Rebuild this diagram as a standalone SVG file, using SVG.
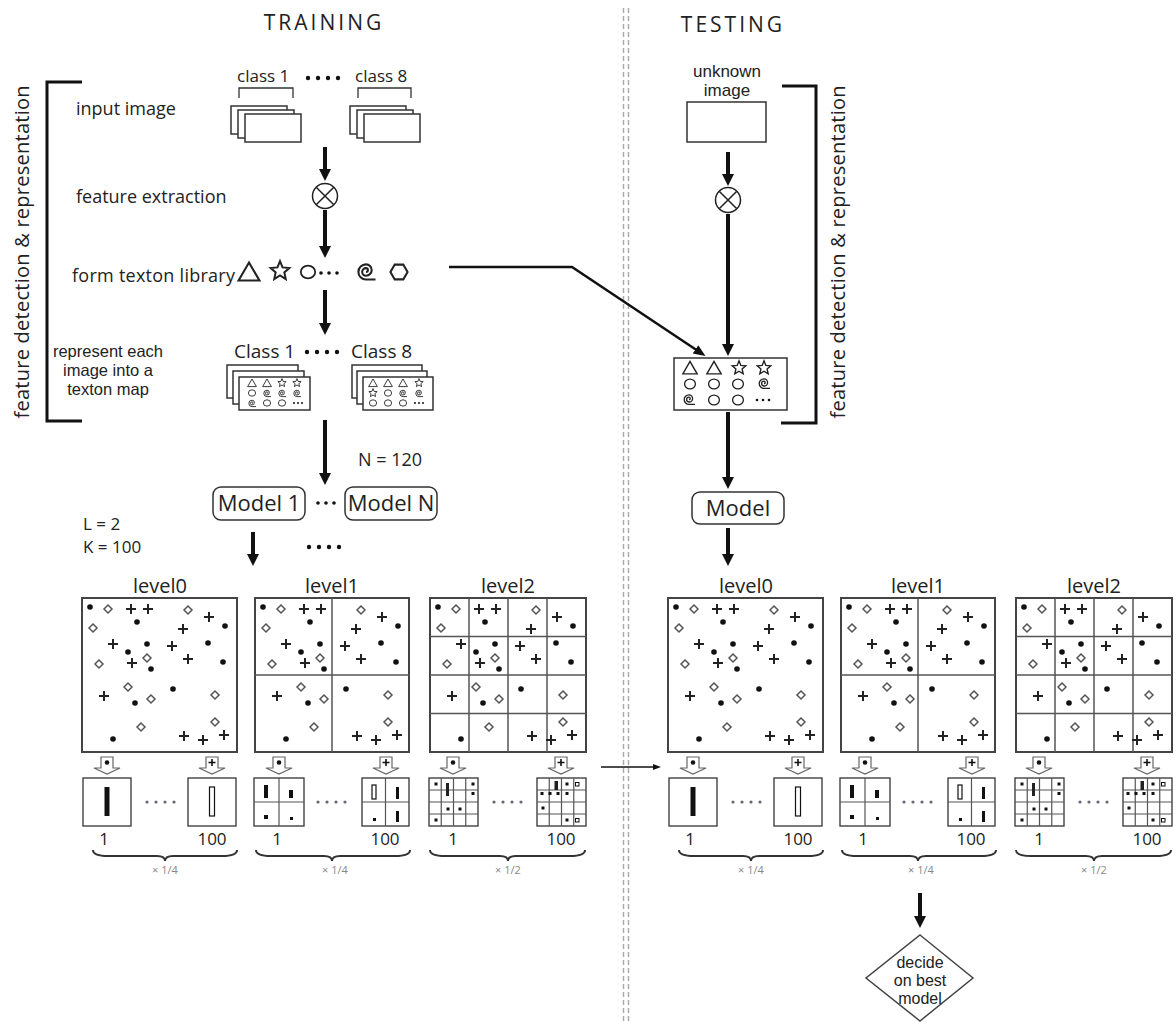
<svg xmlns="http://www.w3.org/2000/svg" width="1176" height="1022" viewBox="0 0 1176 1022">
<style>
text{font-family:"Open Sans","Liberation Sans",sans-serif;fill:#222}
.lbl{font-size:18px}
.title{font-size:21px;letter-spacing:3px;text-anchor:middle}
.arr{stroke:#111;stroke-width:4;fill:none;marker-end:url(#ah)}
.box{fill:#fff;stroke:#333;stroke-width:1.5}
.sq{fill:#fff;stroke:#444;stroke-width:2}
.grid{stroke:#555;stroke-width:1.5}
.ic{fill:none;stroke:#222;stroke-width:1.1}
.dot{fill:#111}
.dia{fill:#fff;stroke:#555;stroke-width:1.5}
.pl{stroke:#222;stroke-width:2}
.num{font-size:17px;text-anchor:middle}
.mul{font-size:11px;fill:#888;text-anchor:middle}
.brace{fill:none;stroke:#333;stroke-width:2}
.hb{fill:#fff;stroke:#333;stroke-width:1.3}
.hg{stroke:#555;stroke-width:1.2}
.gd{fill:#667}
.icn{fill:#fff;stroke:#666;stroke-width:1.2}
.lvt{font-size:20px;text-anchor:middle}
.brk{fill:none;stroke:#111;stroke-width:3}
.mid{text-anchor:middle}
.mdl{font-size:22px;text-anchor:middle}
.tight{font-family:"Liberation Sans","DejaVu Sans",sans-serif;text-anchor:middle}
</style>
<defs>
<marker id="ah" markerUnits="userSpaceOnUse" markerWidth="12" markerHeight="14" viewBox="0 0 12 14" refX="4" refY="7" orient="auto"><path d="M0,1 L12,7 L0,13 Z" fill="#111"/></marker>
<marker id="ahm" markerUnits="userSpaceOnUse" markerWidth="12" markerHeight="12" viewBox="0 0 12 12" refX="3" refY="6" orient="auto"><path d="M0,1 L12,6 L0,11 Z" fill="#111"/></marker>
<marker id="ahs" markerUnits="userSpaceOnUse" markerWidth="8" markerHeight="8" viewBox="0 0 8 8" refX="2" refY="4" orient="auto"><path d="M0,1 L8,4 L0,7 Z" fill="#111"/></marker>
<path id="tri" class="ic" d="M-5.5,4.5 L0,-5 L5.5,4.5 Z"/>
<path id="star" class="ic" d="M0,-5.5 L1.4,-2 L5.2,-1.7 L2.4,0.8 L3.2,4.5 L0,2.5 L-3.2,4.5 L-2.4,0.8 L-5.2,-1.7 L-1.4,-2 Z"/>
<ellipse id="circ" class="ic" rx="4.5" ry="4"/>
<path id="spir" class="ic" d="M0,0.5 A1,1 0 0 0 0,-1.5 A2,2 0 0 0 0,2.5 A3,3 0 0 0 0,-3.5 A4,4 0 0 0 0,4.5 L5,4.5"/>
<polygon id="hex" class="ic" points="4.5,0 2.25,3.9 -2.25,3.9 -4.5,0 -2.25,-3.9 2.25,-3.9"/>
<path id="dm" class="dia" d="M0,-4 L4,0 L0,4 L-4,0 Z"/>
<path id="pl" class="pl" d="M-5,0 H5 M0,-5 V5"/>
<g id="pts">
<circle class="dot" cx="8" cy="9" r="2.8"/><circle class="dot" cx="55" cy="24" r="2.8"/><circle class="dot" cx="143" cy="28" r="2.8"/><circle class="dot" cx="65" cy="46" r="2.8"/><circle class="dot" cx="126" cy="45" r="2.8"/><circle class="dot" cx="46" cy="54" r="2.8"/><circle class="dot" cx="141" cy="64" r="2.8"/><circle class="dot" cx="69" cy="71" r="2.8"/><circle class="dot" cx="91" cy="91" r="2.8"/><circle class="dot" cx="53" cy="105" r="2.8"/><circle class="dot" cx="31" cy="141" r="2.8"/>
<use href="#dm" x="26" y="11"/><use href="#dm" x="106" y="12"/><use href="#dm" x="11" y="30"/><use href="#dm" x="65" y="60"/><use href="#dm" x="17" y="66"/><use href="#dm" x="46" y="89"/><use href="#dm" x="133" y="97"/><use href="#dm" x="69" y="101"/><use href="#dm" x="59" y="129"/><use href="#dm" x="133" y="124"/>
<use href="#pl" x="49" y="11"/><use href="#pl" x="66" y="11"/><use href="#pl" x="127" y="19"/><use href="#pl" x="101" y="31"/><use href="#pl" x="31" y="46"/><use href="#pl" x="90" y="48"/><use href="#pl" x="106" y="61"/><use href="#pl" x="50" y="65"/><use href="#pl" x="22" y="98"/><use href="#pl" x="102" y="138"/><use href="#pl" x="121" y="142"/><use href="#pl" x="142" y="137"/>
</g>
<g id="icd"><path class="icn" d="M-6,0 H6 V11 H13 L0,17 L-13,11 H-6 Z"/><circle cx="0" cy="5.5" r="2.3" fill="#111"/></g>
<g id="icp"><path class="icn" d="M-6,0 H6 V11 H13 L0,17 L-13,11 H-6 Z"/><path d="M-3.5,5.5 H3.5 M0,2 V9" stroke="#111" stroke-width="1.6"/></g>
<g id="lvl">
<text class="lvt" x="160" y="593">level0</text>
<text class="lvt" x="332" y="593">level1</text>
<text class="lvt" x="508" y="593">level2</text>
<rect class="sq" x="82" y="598" width="155" height="154"/>
<rect class="sq" x="255" y="598" width="154" height="154"/>
<path class="grid" d="M332,598 V752 M255,675 H409"/>
<rect class="sq" x="430" y="598" width="156" height="154"/>
<path class="grid" d="M469,598 V752 M508,598 V752 M547,598 V752 M430,636.5 H586 M430,675 H586 M430,713.5 H586"/>
<use href="#pts" x="82" y="598"/>
<use href="#pts" x="255" y="598"/>
<use href="#pts" x="430" y="598"/>
<use href="#icd" x="107" y="757"/><use href="#icp" x="212" y="757"/>
<use href="#icd" x="279" y="757"/><use href="#icp" x="386" y="757"/>
<use href="#icd" x="453" y="757"/><use href="#icp" x="561" y="757"/>
<rect class="hb" x="83" y="778" width="48" height="48"/>
<rect x="104.5" y="787" width="5" height="29" fill="#111"/>
<rect class="hb" x="188" y="778" width="48" height="48"/>
<rect x="209.5" y="787" width="5" height="29" fill="#fff" stroke="#111" stroke-width="1.2"/>
<circle class="gd" cx="147" cy="802" r="1.6"/><circle class="gd" cx="156" cy="802" r="1.6"/><circle class="gd" cx="165" cy="802" r="1.6"/><circle class="gd" cx="174" cy="802" r="1.6"/>
<rect class="hb" x="254" y="778" width="50" height="48"/>
<path class="hg" d="M279,778 V826 M254,802 H304"/>
<rect x="264" y="785" width="4" height="13" fill="#111"/>
<rect x="289" y="790" width="4" height="8" fill="#111"/>
<rect x="264" y="815" width="4" height="4" fill="#111"/>
<rect x="290" y="817" width="3" height="3" fill="#111"/>
<circle class="gd" cx="318" cy="802" r="1.6"/><circle class="gd" cx="327" cy="802" r="1.6"/><circle class="gd" cx="336" cy="802" r="1.6"/><circle class="gd" cx="345" cy="802" r="1.6"/>
<rect class="hb" x="362" y="778" width="47" height="48"/>
<path class="hg" d="M385.5,778 V826 M362,802 H409"/>
<rect x="372" y="785" width="4" height="14" fill="#fff" stroke="#111" stroke-width="1.2"/>
<rect x="396" y="787" width="3" height="12" fill="#111"/>
<rect x="373" y="818" width="3" height="3" fill="#111"/>
<rect x="396" y="811" width="3" height="11" fill="#111"/>
<rect class="hb" x="429" y="778" width="49" height="48"/>
<path class="hg" d="M441.25,778 V826 M453.5,778 V826 M465.75,778 V826 M429,790 H478 M429,802 H478 M429,814 H478"/>
<rect x="434.5" y="782.5" width="3" height="3" fill="#111"/>
<rect x="446" y="783" width="3" height="13" fill="#222"/>
<rect x="471.5" y="782.5" width="3" height="3" fill="#111"/>
<rect x="471.5" y="792" width="3" height="3" fill="#111"/>
<rect x="446.5" y="807.5" width="3" height="3" fill="#111"/>
<rect x="458.5" y="807.5" width="3" height="3" fill="#111"/>
<rect x="434.5" y="818.5" width="3" height="3" fill="#111"/>
<circle class="gd" cx="494" cy="802" r="1.6"/><circle class="gd" cx="503" cy="802" r="1.6"/><circle class="gd" cx="512" cy="802" r="1.6"/><circle class="gd" cx="521" cy="802" r="1.6"/>
<rect class="hb" x="537" y="778" width="49" height="48"/>
<path class="hg" d="M549.25,778 V826 M561.5,778 V826 M573.75,778 V826 M537,790 H586 M537,802 H586 M537,814 H586"/>
<rect x="554.5" y="781" width="3.5" height="9" fill="#222"/>
<rect x="565.5" y="782.5" width="3" height="3" fill="#111"/>
<rect x="575.5" y="782.5" width="3.5" height="3.5" fill="#fff" stroke="#111" stroke-width="1"/>
<rect x="540.5" y="792" width="3" height="3" fill="#111"/>
<rect x="548.5" y="792" width="3" height="3" fill="#111"/>
<rect x="556.5" y="792" width="3" height="3" fill="#111"/>
<rect x="565.5" y="792" width="3" height="3" fill="#111"/>
<rect x="541.5" y="806.5" width="3" height="3" fill="#111"/>
<rect x="565.5" y="818.5" width="3" height="3" fill="#111"/>
<rect x="575.5" y="818.5" width="3.5" height="3.5" fill="#fff" stroke="#111" stroke-width="1"/>
<text class="num" x="104" y="845">1</text><text class="num" x="212" y="845">100</text>
<text class="num" x="277" y="845">1</text><text class="num" x="385" y="845">100</text>
<text class="num" x="453" y="845">1</text><text class="num" x="561" y="845">100</text>
<path class="brace" d="M93,850 Q93,856 108,856 L157,856 Q165,856 165,861 Q165,856 173,856 L222,856 Q237,856 237,850"/>
<path class="brace" d="M256,850 Q256,856 271,856 L324,856 Q332,856 332,861 Q332,856 340,856 L395,856 Q410,856 410,850"/>
<path class="brace" d="M430,850 Q430,856 445,856 L500,856 Q508,856 508,861 Q508,856 516,856 L570,856 Q585,856 585,850"/>
<text class="mul" x="165" y="874">× 1/4</text>
<text class="mul" x="335" y="874">× 1/4</text>
<text class="mul" x="508" y="874">× 1/2</text>
</g>
</defs>
<rect width="1176" height="1022" fill="#fff"/>

<g id="separator">
<path d="M623.5,8 V1022 M628.5,8 V1022" stroke="#aaa" stroke-width="1.5" stroke-dasharray="5 3"/>
</g>

<g id="title-training"><text class="title" x="324" y="30">TRAINING</text></g>
<g id="title-testing"><text class="title" x="733" y="32">TESTING</text></g>

<g id="bracket-left">
<path class="brk" d="M82,82 H47 V421 H82"/>
<text transform="translate(29,252) rotate(-90)" class="mid" font-size="20" textLength="333">feature detection &amp; representation</text>
</g>

<g id="step-labels">
<text class="lbl" x="76" y="115">input image</text>
<text class="lbl" x="76" y="203">feature extraction</text>
<text class="lbl" x="72" y="282" textLength="163">form texton library</text>
<text class="tight" x="108" y="357" font-size="16.5">represent each</text>
<text class="tight" x="108" y="376" font-size="16.5">image into a</text>
<text class="tight" x="108" y="395" font-size="16.5">texton map</text>
</g>

<g id="input-images">
<text x="237" y="82" font-size="17">class 1</text>
<text x="355" y="82" font-size="17">class 8</text>
<circle cx="308" cy="78" r="2.2" fill="#111"/><circle cx="318" cy="78" r="2.2" fill="#111"/><circle cx="328" cy="78" r="2.2" fill="#111"/><circle cx="338" cy="78" r="2.2" fill="#111"/>
<path d="M239,98 V88 H293 V98 M358,98 V88 H411 V98" fill="none" stroke="#333" stroke-width="1.3"/>
<rect class="box" x="231" y="106" width="56" height="28"/><rect class="box" x="238" y="110" width="56" height="28"/><rect class="box" x="245" y="114" width="56" height="28"/>
<rect class="box" x="350" y="106" width="56" height="28"/><rect class="box" x="357" y="110" width="56" height="28"/><rect class="box" x="364" y="114" width="56" height="28"/>
</g>

<g id="feature-extraction-train" transform="translate(325,196)">
<circle r="12.5" fill="#fff" stroke="#222" stroke-width="1.5"/><path d="M-8.8,-8.8 L8.8,8.8 M8.8,-8.8 L-8.8,8.8" stroke="#222" stroke-width="1.5"/>
</g>

<g id="texton-library">
<use href="#tri" transform="translate(249,272) scale(1.9)"/>
<use href="#star" transform="translate(280,271) scale(1.8)"/>
<use href="#circ" transform="translate(308,272) scale(1.6)"/>
<circle cx="321" cy="273" r="1.8" fill="#111"/><circle cx="329" cy="273" r="1.8" fill="#111"/><circle cx="337" cy="273" r="1.8" fill="#111"/>
<use href="#spir" transform="translate(366,271) scale(1.9)"/>
<use href="#hex" transform="translate(399,272) scale(1.9)"/>
</g>

<g id="texton-maps-train">
<text x="234" y="358" font-size="19">Class 1</text>
<text x="351" y="358" font-size="19">Class 8</text>
<circle cx="307" cy="352" r="2.2" fill="#111"/><circle cx="317" cy="352" r="2.2" fill="#111"/><circle cx="327" cy="352" r="2.2" fill="#111"/><circle cx="337" cy="352" r="2.2" fill="#111"/>
<rect class="box" x="227" y="365" width="71" height="33"/><rect class="box" x="233" y="371" width="71" height="33"/><rect class="box" x="239" y="377" width="71" height="33"/>
<use href="#tri" transform="translate(252,383) scale(0.8)"/><use href="#tri" transform="translate(267,383) scale(0.8)"/><use href="#star" transform="translate(282,383) scale(0.8)"/><use href="#star" transform="translate(297,383) scale(0.8)"/>
<use href="#circ" transform="translate(252,393) scale(0.8)"/><use href="#spir" transform="translate(267,393) scale(0.8)"/><use href="#spir" transform="translate(282,393) scale(0.8)"/><use href="#spir" transform="translate(297,393) scale(0.8)"/>
<use href="#spir" transform="translate(252,403) scale(0.8)"/><use href="#circ" transform="translate(267,403) scale(0.8)"/><use href="#circ" transform="translate(282,403) scale(0.8)"/>
<circle cx="294" cy="403" r="1" fill="#111"/><circle cx="298" cy="403" r="1" fill="#111"/><circle cx="302" cy="403" r="1" fill="#111"/>
<rect class="box" x="352" y="365" width="70" height="33"/><rect class="box" x="357" y="371" width="70" height="33"/><rect class="box" x="363" y="377" width="70" height="33"/>
<use href="#tri" transform="translate(373,383) scale(0.8)"/><use href="#tri" transform="translate(388,383) scale(0.8)"/><use href="#tri" transform="translate(403,383) scale(0.8)"/><use href="#star" transform="translate(419,383) scale(0.8)"/>
<use href="#star" transform="translate(373,393) scale(0.8)"/><use href="#circ" transform="translate(388,393) scale(0.8)"/><use href="#spir" transform="translate(403,393) scale(0.8)"/><use href="#spir" transform="translate(419,393) scale(0.8)"/>
<use href="#circ" transform="translate(373,403) scale(0.8)"/><use href="#circ" transform="translate(388,403) scale(0.8)"/><use href="#circ" transform="translate(403,403) scale(0.8)"/>
<circle cx="415" cy="403" r="1" fill="#111"/><circle cx="419" cy="403" r="1" fill="#111"/><circle cx="423" cy="403" r="1" fill="#111"/>
</g>

<g id="models-train">
<text x="358" y="466" font-size="18">N = 120</text>
<rect class="box" x="213" y="487" width="92" height="33" rx="8"/>
<text x="259" y="511" class="mdl">Model 1</text>
<circle cx="318" cy="503" r="1.8" fill="#111"/><circle cx="326" cy="503" r="1.8" fill="#111"/><circle cx="334" cy="503" r="1.8" fill="#111"/>
<rect class="box" x="345" y="487" width="92" height="33" rx="8"/>
<text x="391" y="511" class="mdl">Model N</text>
<text x="83" y="530" font-size="17">L = 2</text>
<text x="83" y="553" font-size="17">K = 100</text>
<circle cx="309" cy="547" r="2.2" fill="#111"/><circle cx="319" cy="547" r="2.2" fill="#111"/><circle cx="329" cy="547" r="2.2" fill="#111"/><circle cx="339" cy="547" r="2.2" fill="#111"/>
</g>

<g id="levels-train"><use href="#lvl"/></g>
<g id="levels-test"><use href="#lvl" x="586"/></g>

<g id="unknown-image">
<text class="tight" x="727" y="77" font-size="17">unknown</text>
<text class="tight" x="727" y="96" font-size="17">image</text>
<rect class="box" x="687" y="102" width="79" height="40"/>
</g>

<g id="feature-extraction-test" transform="translate(728,200)">
<circle r="12.5" fill="#fff" stroke="#222" stroke-width="1.5"/><path d="M-8.8,-8.8 L8.8,8.8 M8.8,-8.8 L-8.8,8.8" stroke="#222" stroke-width="1.5"/>
</g>

<g id="texton-map-test">
<rect class="box" x="674" y="358" width="113" height="52"/>
<use href="#tri" transform="translate(690,368) scale(1.3)"/><use href="#tri" transform="translate(714,368) scale(1.3)"/><use href="#star" transform="translate(739,368) scale(1.3)"/><use href="#star" transform="translate(764,368) scale(1.3)"/>
<use href="#circ" transform="translate(690,384) scale(1.2)"/><use href="#circ" transform="translate(714,384) scale(1.2)"/><use href="#circ" transform="translate(738,384) scale(1.2)"/><use href="#spir" transform="translate(764,383) scale(1.2)"/>
<use href="#spir" transform="translate(689,399) scale(1.2)"/><use href="#circ" transform="translate(714,400) scale(1.2)"/><use href="#circ" transform="translate(738,400) scale(1.2)"/>
<circle cx="757" cy="400" r="1.3" fill="#111"/><circle cx="763" cy="400" r="1.3" fill="#111"/><circle cx="769" cy="400" r="1.3" fill="#111"/>
</g>

<g id="bracket-right">
<path class="brk" d="M782,86 H816 V423 H781"/>
<text transform="translate(845,252) rotate(-90)" class="mid" font-size="20" textLength="333">feature detection &amp; representation</text>
</g>

<g id="model-test">
<rect class="box" x="692" y="492" width="92" height="32" rx="8"/>
<text x="738" y="516" class="mdl">Model</text>
</g>

<g id="decision">
<polygon points="920,935 973,978 920,1021 866,978" fill="#fff" stroke="#444" stroke-width="1.5"/>
<text class="tight" x="920" y="968" font-size="16">decide</text>
<text class="tight" x="920" y="986" font-size="16">on best</text>
<text class="tight" x="920" y="1004" font-size="16">model</text>
</g>

<g id="connectors">
<path class="arr" d="M325,147 V173"/>
<path class="arr" d="M325,210 V250"/>
<path class="arr" d="M325,290 V327"/>
<path class="arr" d="M325,420 V477"/>
<path class="arr" d="M253,532 V558"/>
<path d="M449,267 H572 L698,351" fill="none" stroke="#111" stroke-width="2.5" marker-end="url(#ahm)"/>
<path class="arr" d="M728,152 V178"/>
<path class="arr" d="M728,214 V348"/>
<path class="arr" d="M728,412 V481"/>
<path class="arr" d="M728,528 V558"/>
<path class="arr" d="M920,893 V920"/>
<path d="M601,767 H655" fill="none" stroke="#111" stroke-width="1.5" marker-end="url(#ahs)"/>
</g>
</svg>
